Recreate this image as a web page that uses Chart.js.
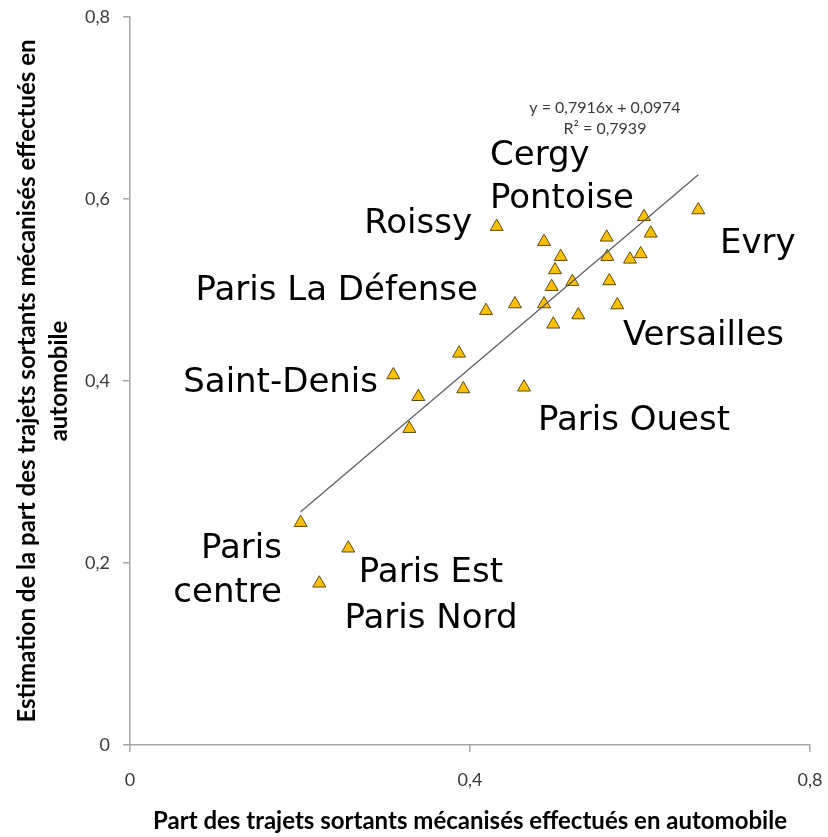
<!DOCTYPE html>
<html lang="fr">
<head>
<meta charset="utf-8">
<title>Part modale automobile</title>
<script src="https://cdn.jsdelivr.net/npm/chart.js@4/dist/chart.umd.min.js"></script>
<style>
  html, body { margin: 0; padding: 0; background: #fff; }
  #wrap { width: 828px; height: 837px; }
</style>
</head>
<body>
<div id="wrap"><canvas id="chart" width="828" height="837"></canvas></div>
<script>
// Observed share of car trips (x) vs. estimated share (y), one point per pole
const observed = [
  0.2008, 0.2568, 0.2227, 0.3098, 0.3392, 0.3286, 0.3871, 0.3921, 0.4635, 0.4188,
  0.4529, 0.4871, 0.4980, 0.5274, 0.4961, 0.5000, 0.5067, 0.4871, 0.5204, 0.4314,
  0.5608, 0.5615, 0.5639, 0.5733, 0.5882, 0.6008, 0.6047, 0.6126, 0.6686
];
const estimated = [
  0.2443, 0.2162, 0.1777, 0.4066, 0.3827, 0.3476, 0.4304, 0.3912, 0.3931, 0.4773,
  0.4846, 0.4846, 0.4623, 0.4725, 0.5036, 0.5220, 0.5366, 0.5531, 0.5091, 0.5696,
  0.5579, 0.5366, 0.5099, 0.4835, 0.5337, 0.5396, 0.5805, 0.5623, 0.5879
];

// Linear trend (Excel output)
const slope = 0.7916;
const intercept = 0.0974;
const rSquared = 0.7939;

const xTicks = [0, 0.4, 0.8];
const yTicks = [0, 0.2, 0.4, 0.6, 0.8];

// Place names, anchored in data units
const placeNames = ['Cergy', 'Pontoise', 'Roissy', 'Paris La Défense', 'Saint-Denis', 'Evry',
  'Versailles', 'Paris Ouest', 'Paris', 'centre', 'Paris Est', 'Paris Nord'];
const nameX = [0.4235, 0.4235, 0.4024, 0.4094, 0.2918, 0.6941, 0.5800, 0.4800, 0.1788, 0.1788, 0.3541, 0.3541];
const nameY = [0.6374, 0.5901, 0.5626, 0.4890, 0.3879, 0.5407, 0.4396, 0.3462, 0.2055, 0.1571, 0.1791, 0.1286];
const nameAlign = ['left', 'left', 'right', 'right', 'right', 'left', 'left', 'left', 'right', 'right', 'center', 'center'];

const fmt = v => String(+v.toFixed(1)).replace('.', ',');

const points = observed.map((x, i) => ({ x, y: estimated[i] }));
const xMin = Math.min(...observed);
const xMax = Math.max(...observed);
const trend = [xMin, xMax].map(x => ({ x, y: slope * x + intercept }));

const axisGray = '#a6a6a6';

const namesPlugin = {
  id: 'placeNames',
  afterDatasetsDraw(chart) {
    const { ctx, scales: { x, y } } = chart;
    ctx.save();
    ctx.fillStyle = '#000';
    ctx.font = '34px "DejaVu Sans"';
    ctx.textBaseline = 'alphabetic';
    placeNames.forEach((name, i) => {
      ctx.textAlign = nameAlign[i];
      ctx.fillText(name, x.getPixelForValue(nameX[i]), y.getPixelForValue(nameY[i]));
    });

    // trend equation
    ctx.font = '16px Lato';
    ctx.fillStyle = '#3a3a3a';
    ctx.textAlign = 'center';
    const ex = x.getPixelForValue(0.5588);
    ctx.fillText('y = ' + String(slope).replace('.', ',') + 'x + ' + String(intercept).replace('.', ','), ex, y.getPixelForValue(0.6945));
    ctx.fillText('R² = ' + String(rSquared).replace('.', ','), ex, y.getPixelForValue(0.6714));
    ctx.restore();
  }
};

new Chart(document.getElementById('chart'), {
  type: 'scatter',
  data: {
    datasets: [
      {
        label: 'Tendance',
        data: trend,
        showLine: true,
        borderColor: '#5a5a5a',
        borderWidth: 1.2,
        pointRadius: 0,
        order: 0
      },
      {
        label: 'Pôles',
        data: points,
        pointStyle: 'triangle',
        pointRadius: 7.5,
        backgroundColor: '#FFC000',
        borderColor: '#5c4a10',
        borderWidth: 1,
        order: 1
      }
    ]
  },
  options: {
    responsive: false,
    animation: false,
    layout: { padding: { left: 0, right: 18, top: 17, bottom: 0 } },
    plugins: { legend: { display: false }, tooltip: { enabled: false } },
    scales: {
      x: {
        type: 'linear',
        min: 0,
        max: 0.8,
        afterFit: s => { s.height = 92; s.paddingLeft = 0; s.paddingRight = 0; },
        afterBuildTicks: s => { s.ticks = xTicks.map(value => ({ value })); },
        grid: { drawOnChartArea: false, color: axisGray, tickLength: 7, lineWidth: 1.5 },
        border: { color: axisGray, width: 1.5 },
        ticks: { padding: 17, color: '#3a3a3a', font: { family: 'Lato', size: 18 }, callback: fmt },
        title: {
          display: true,
          text: 'Part des trajets sortants mécanisés effectués en automobile',
          color: '#000',
          font: { family: 'Lato', size: 24, weight: 'bold', lineHeight: 1.2 },
          padding: { top: 0, bottom: 1 }
        }
      },
      y: {
        type: 'linear',
        min: 0,
        max: 0.8,
        afterFit: s => { s.width = 130; s.paddingTop = 0; s.paddingBottom = 0; },
        afterBuildTicks: s => { s.ticks = yTicks.map(value => ({ value })); },
        grid: { drawOnChartArea: false, color: axisGray, tickLength: 7, lineWidth: 1.5 },
        border: { color: axisGray, width: 1.5 },
        ticks: { padding: 13, color: '#3a3a3a', font: { family: 'Lato', size: 18 }, callback: fmt },
        title: {
          display: true,
          text: ['Estimation de la part des trajets sortants mécanisés effectués en', 'automobile'],
          color: '#000',
          font: { family: 'Lato', size: 24, weight: 'bold', lineHeight: 1.3 },
          padding: { top: 12, bottom: 0 }
        }
      }
    }
  },
  plugins: [namesPlugin]
});
</script>
</body>
</html>
